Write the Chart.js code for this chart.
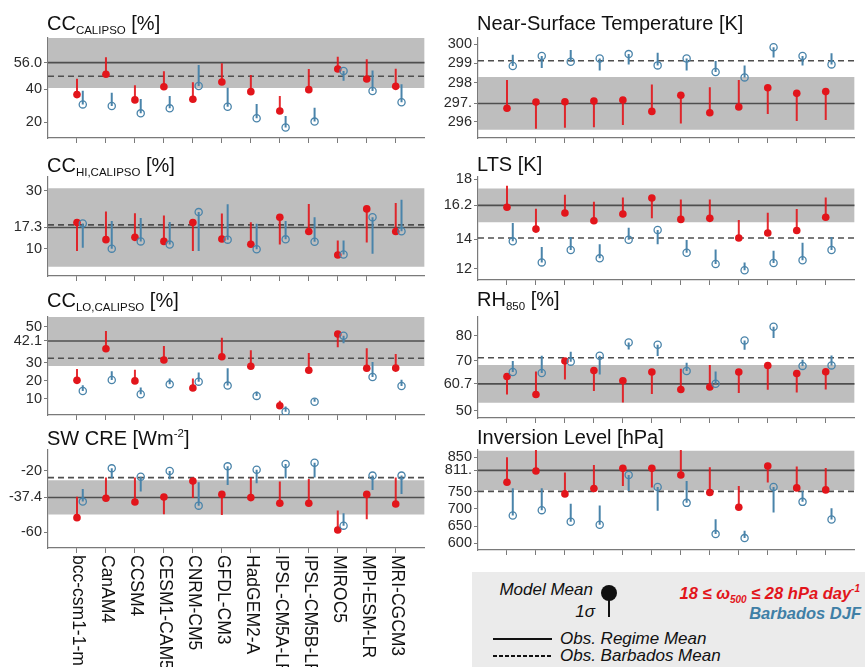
<!DOCTYPE html>
<html>
<head>
<meta charset="utf-8">
<script src="https://cdn.jsdelivr.net/npm/chart.js@4.4.1/dist/chart.umd.min.js"></script>
<style>
  body { margin:0; width:865px; height:667px; position:relative; background:#fff; overflow:hidden;
         font-family:"Liberation Sans", Arial, Helvetica, sans-serif; }
  canvas { position:absolute; }
  .title { position:absolute; font-size:20px; line-height:20px; color:#111; white-space:nowrap; z-index:3; }
  .title sub { font-size:11.5px; vertical-align:baseline; position:relative; top:4px; }
  .title sup { font-size:11.5px; vertical-align:baseline; position:relative; top:-8px; }
  #legendBox { position:absolute; left:472px; top:572px; width:393px; height:95px; background:#EBEBEB; z-index:1; }
  .lg { position:absolute; font-size:17px; line-height:20px; font-style:italic; color:#111; white-space:nowrap; z-index:2; }
  .lg sub { font-size:10px; vertical-align:baseline; position:relative; top:4px; }
  .lg sup { font-size:10px; vertical-align:baseline; position:relative; top:-7px; }
</style>
</head>
<body>

<div class="title" style="left:47px;top:13px">CC<sub>CALIPSO</sub> [%]</div>
<div class="title" style="left:477px;top:13px">Near-Surface Temperature [K]</div>
<div class="title" style="left:47px;top:155px">CC<sub>HI,CALIPSO</sub> [%]</div>
<div class="title" style="left:477px;top:154px">LTS [K]</div>
<div class="title" style="left:47px;top:290px">CC<sub>LO,CALIPSO</sub> [%]</div>
<div class="title" style="left:477px;top:289px">RH<sub>850</sub> [%]</div>
<div class="title" style="left:47px;top:428px">SW CRE [Wm<sup>-2</sup>]</div>
<div class="title" style="left:477px;top:427px">Inversion Level [hPa]</div>

<div id="legendBox"></div>
<div class="lg" style="right:272px;top:580px">Model Mean</div>
<div style="position:absolute;left:601px;top:585px;width:16px;height:16px;border-radius:50%;background:#111;z-index:2"></div>
<div style="position:absolute;left:608px;top:592px;width:2px;height:25px;background:#111;z-index:2"></div>
<div class="lg" style="right:270px;top:602px">1σ</div>
<div class="lg" style="right:5px;top:583px;font-weight:bold;color:#E2151B;font-size:16.5px">18 ≤ ω<sub>500</sub> ≤ 28 hPa day<sup>-1</sup></div>
<div class="lg" style="right:4px;top:603px;font-weight:bold;color:#3F7FA6;font-size:16.5px">Barbados DJF</div>
<div style="position:absolute;left:493px;top:638px;width:59px;height:2px;background:#111;z-index:2"></div>
<div class="lg" style="left:560px;top:629px">Obs. Regime Mean</div>
<div style="position:absolute;left:493px;top:655px;width:59px;height:2px;background:repeating-linear-gradient(90deg,#111 0 4px,transparent 4px 6px);z-index:2"></div>
<div class="lg" style="left:560px;top:646px">Obs. Barbados Mean</div>

<script>
// ---------------- DATA ----------------
const models = ["bcc-csm1-1-m","CanAM4","CCSM4","CESM1-CAM5","CNRM-CM5","GFDL-CM3",
                "HadGEM2-A","IPSL-CM5A-LR","IPSL-CM5B-LR","MIROC5","MPI-ESM-LR","MRI-CGCM3"];

// Observations per panel: CC, CC_HI, CC_LO, SW CRE, T, LTS, RH850, Inversion
const obsRegimeMean   = [56.0, 17.3, 42.1, -37.4, 296.94, 16.26, 60.73, 812];
const obsRegimeSd     = [15.3, 13.5, 13.85, 11.1, 1.36, 1.13, 7.53, 57];
const obsBarbadosMean = [47.8, 18.2, 32.5, -24.5, 299.14, 14.07, 71.2, 751];

const yTickValues = [
  [20, 40, 56.0],
  [10, 17.3, 30],
  [10, 20, 30, 42.1, 50],
  [-60, -37.4, -20],
  [296, 296.94, 298, 299, 300],
  [12, 14, 16.26, 18],
  [50, 60.73, 70, 80],
  [600, 650, 700, 750, 812, 850]
];
const yTickLabels = [
  ["20", "40", "56.0"],
  ["10", "17.3", "30"],
  ["10", "20", "30", "42.1", "50"],
  ["-60", "-37.4", "-20"],
  ["296", "297.", "298", "299", "300"],
  ["12", "14", "16.2", "18"],
  ["50", "60.7", "70", "80"],
  ["600", "650", "700", "750", "811.", "850"]
];

// CC_CALIPSO [%]
const ccRegime        = [36.7,49.0,33.5,41.5,33.9,44.3,38.5,26.8,39.7,52.2,46.1,41.7];
const ccRegimeSigma   = [46.3,59.2,42.3,50.8,44.1,55.6,48.6,35.9,52.2,59.6,58.0,52.4];
const ccBarbados      = [30.8,29.8,25.4,28.4,41.9,29.4,22.4,16.8,20.4,51.0,38.9,32.1];
const ccBarbadosSigma = [39.1,37.9,34.1,35.9,54.6,40.9,31.1,23.8,28.8,45.1,51.2,42.9];

// CC_HI,CALIPSO [%]
const ccHiRegime        = [19.0,13.1,13.9,12.5,19.0,13.3,11.5,20.8,15.9,7.8,23.7,15.9];
const ccHiRegimeSigma   = [9.2,22.8,22.2,21.4,9.2,22.1,19.1,11.4,25.4,12.8,12.1,25.7];
const ccHiBarbados      = [18.7,10.0,12.5,11.4,22.6,13.1,9.8,13.2,12.4,8.0,20.8,16.0];
const ccHiBarbadosSigma = [10.3,19.5,20.6,19.2,9.2,25.3,18.6,19.5,20.8,12.8,8.2,26.9];

// CC_LO,CALIPSO [%]
const ccLoRegime        = [20.3,37.8,20.0,31.6,16.1,33.4,28.1,6.3,25.9,45.9,27.0,27.1];
const ccLoRegimeSigma   = [26.6,47.6,26.2,39.3,21.4,43.9,36.9,9.1,35.4,38.6,38.0,34.9];
const ccLoBarbados      = [14.4,20.5,12.6,18.1,19.6,17.4,11.7,3.0,8.5,45.0,22.2,17.2];
const ccLoBarbadosSigma = [17.6,25.3,16.3,21.4,24.7,27.0,14.1,5.8,10.2,40.8,30.5,20.7];

// SW CRE [W m-2]
const swRegime        = [-50.5,-37.9,-40.3,-37.1,-26.7,-35.4,-37.5,-41.2,-41.2,-58.5,-35.4,-41.6];
const swRegimeSigma   = [-36.9,-24.5,-24.5,-48.3,-37.7,-48.8,-24.5,-27.1,-25.4,-45.9,-51.6,-24.5];
const swBarbados      = [-40.1,-18.5,-23.9,-20.2,-42.7,-17.2,-19.4,-15.7,-14.8,-55.7,-23.2,-23.2];
const swBarbadosSigma = [-31.9,-25.0,-33.6,-25.6,-27.6,-29.3,-28.2,-25.0,-24.5,-47.7,-32.5,-35.1];

// Near-surface temperature [K]
const tasRegime        = [296.69,297.01,297.03,297.06,297.12,296.53,297.36,296.46,296.76,297.75,297.46,297.55];
const tasRegimeSigma   = [298.15,295.64,295.69,295.71,295.83,297.92,295.91,297.77,298.15,296.39,296.03,296.09];
const tasBarbados      = [298.87,299.38,299.09,299.26,299.48,298.90,299.26,298.56,298.28,299.83,299.38,298.95];
const tasBarbadosSigma = [299.45,298.76,299.69,298.63,298.95,299.55,298.63,299.12,298.90,299.31,298.90,299.52];

// LTS [K]
const ltsRegime        = [16.13,14.67,15.75,15.23,15.68,16.75,15.32,15.39,14.07,14.41,14.58,15.46];
const ltsRegimeSigma   = [17.58,16.04,16.97,16.50,16.79,15.39,16.66,16.66,15.28,15.77,16.01,16.79];
const ltsBarbados      = [13.85,12.44,13.27,12.71,13.96,14.61,13.09,12.33,11.91,12.40,12.58,13.27];
const ltsBarbadosSigma = [15.08,13.47,14.14,13.65,14.76,13.65,13.94,13.31,12.44,13.22,13.76,14.14];

// RH850 [%]
const rhRegime        = [63.7,56.5,69.9,66.1,62.0,65.5,58.5,59.5,65.5,68.1,64.9,65.6];
const rhRegimeSigma   = [56.5,65.7,62.5,57.9,53.3,56.7,66.8,68.3,57.1,58.4,57.3,58.5];
const rhBarbados      = [65.5,65.1,69.6,72.0,77.3,76.4,65.9,60.8,78.1,83.6,67.9,68.1];
const rhBarbadosSigma = [69.9,72.0,73.6,64.5,74.5,71.9,69.2,65.7,74.4,79.1,70.4,72.1];

// Inversion level [hPa]
const invRegime        = [777.5,810.4,743.7,759.2,818.1,818.1,798.8,747.6,705.0,824.9,761.1,755.3];
const invRegimeSigma   = [850.0,875.0,805.6,827.8,766.9,762.0,874.0,821.0,766.9,776.6,823.0,819.1];
const invBarbados      = [680.9,696.4,662.6,653.9,798.8,764.0,717.6,626.8,615.2,764.0,720.5,669.3];
const invBarbadosSigma = [760.1,760.1,714.7,709.9,752.4,694.4,781.4,670.3,636.5,689.6,752.4,702.2];

// ---------------- LAYOUT / STYLE ----------------
const RED = '#E2151B', RED_LINE = 'rgba(226,21,27,0.9)', BLUE = '#4A84AA';
const FONT = '"Liberation Sans", Arial, Helvetica, sans-serif';
Chart.defaults.font.family = FONT;

const panels = [
  {col:0, top:38,  bottom:138, min:10.5,   max:70.9,   red:ccRegime,   redS:ccRegimeSigma,   blue:ccBarbados,   blueS:ccBarbadosSigma},
  {col:0, top:177, bottom:276, min:0.57,   max:34.7,   red:ccHiRegime, redS:ccHiRegimeSigma, blue:ccHiBarbados, blueS:ccHiBarbadosSigma},
  {col:0, top:317, bottom:415, min:1.15,   max:55.35,  red:ccLoRegime, redS:ccLoRegimeSigma, blue:ccLoBarbados, blueS:ccLoBarbadosSigma},
  {col:0, top:450, bottom:548, min:-70.2,  max:-6.6,   red:swRegime,   redS:swRegimeSigma,   blue:swBarbados,   blueS:swBarbadosSigma, labels:true},
  {col:1, top:38,  bottom:138, min:295.16, max:300.31, red:tasRegime,  redS:tasRegimeSigma,  blue:tasBarbados,  blueS:tasBarbadosSigma},
  {col:1, top:177, bottom:280, min:11.26,  max:18.16,  red:ltsRegime,  redS:ltsRegimeSigma,  blue:ltsBarbados,  blueS:ltsBarbadosSigma},
  {col:1, top:317, bottom:418, min:47.07,  max:87.47,  red:rhRegime,   redS:rhRegimeSigma,   blue:rhBarbados,   blueS:rhBarbadosSigma},
  {col:1, top:450, bottom:550, min:580.6,  max:871.3,  red:invRegime,  redS:invRegimeSigma,  blue:invBarbados,  blueS:invBarbadosSigma}
];

const BLUE_OFFSET = 0.2;

function whiskers(vals, ends, off) {
  const d = [];
  vals.forEach((v, i) => {
    d.push({x: i + 1 + off, y: v}, {x: i + 1 + off, y: ends[i]}, {x: i + 1 + off, y: null});
  });
  return d;
}

const modelLabelPlugin = {
  id: 'modelLabels',
  afterDraw(chart) {
    const xs = chart.scales.x, ctx = chart.ctx;
    ctx.save();
    ctx.font = '17.5px ' + FONT;
    ctx.fillStyle = '#111';
    ctx.textAlign = 'left';
    ctx.textBaseline = 'middle';
    models.forEach((m, i) => {
      const px = xs.getPixelForValue(i + 1);
      ctx.save();
      ctx.translate(px + 1, chart.chartArea.bottom + 7);
      ctx.rotate(Math.PI / 2);
      ctx.fillText(m, 0, 0);
      ctx.restore();
    });
    ctx.restore();
  }
};

panels.forEach((p, k) => {
  const padTop = 10;
  const xh = p.labels ? 667 - p.bottom : 8;
  const W = 430, H = padTop + (p.bottom - p.top) + xh;
  const cv = document.createElement('canvas');
  cv.width = W; cv.height = H;
  cv.style.width = W + 'px'; cv.style.height = H + 'px';
  cv.style.left = (p.col ? 430 : 0) + 'px';
  cv.style.top = (p.top - padTop) + 'px';
  document.body.appendChild(cv);

  const m = obsRegimeMean[k], sd = obsRegimeSd[k], b = obsBarbadosMean[k];
  const tv = yTickValues[k], tl = yTickLabels[k];

  new Chart(cv, {
    type: 'line',
    data: {
      datasets: [
        {data: [{x:0, y:m + sd}, {x:13, y:m + sd}], fill: {value: m - sd}, backgroundColor: '#BEBEBE',
         borderWidth: 0, pointRadius: 0, order: 7},
        {data: [{x:0, y:m}, {x:13, y:m}], borderColor: '#4F4F4F', borderWidth: 1.6, pointRadius: 0, fill: false, order: 6},
        {data: [{x:0, y:b}, {x:13, y:b}], borderColor: '#4F4F4F', borderWidth: 1.6, borderDash: [6, 4],
         pointRadius: 0, fill: false, order: 5},
        {data: whiskers(p.red, p.redS, 0), borderColor: RED_LINE, borderWidth: 2, pointRadius: 0,
         spanGaps: false, fill: false, order: 4},
        {data: p.red.map((v, i) => ({x: i + 1, y: v})), showLine: false, pointRadius: 3.8,
         pointBackgroundColor: RED, pointBorderColor: RED, pointBorderWidth: 0, order: 3},
        {data: whiskers(p.blue, p.blueS, BLUE_OFFSET), borderColor: BLUE, borderWidth: 2, pointRadius: 0,
         spanGaps: false, fill: false, order: 2},
        {data: p.blue.map((v, i) => ({x: i + 1 + BLUE_OFFSET, y: v})), showLine: false, pointRadius: 3.6,
         pointBackgroundColor: 'rgba(0,0,0,0)', pointBorderColor: BLUE, pointBorderWidth: 1.3, order: 1}
      ]
    },
    options: {
      responsive: false, animation: false, events: [], devicePixelRatio: 1,
      layout: {padding: {top: padTop, right: 5, left: 0, bottom: 0}},
      plugins: {legend: {display: false}, tooltip: {enabled: false}},
      scales: {
        x: {
          type: 'linear', min: 0, max: 13,
          afterBuildTicks: s => { s.ticks = models.map((_, i) => ({value: i + 1})); },
          ticks: {display: false, autoSkip: false},
          grid: {drawOnChartArea: false, drawTicks: true, tickLength: 5, color: '#7a7a7a', lineWidth: 1},
          border: {color: '#7a7a7a', width: 1.2},
          afterFit: s => { s.height = xh; s.paddingLeft = 0; s.paddingRight = 0; }
        },
        y: {
          min: p.min, max: p.max,
          afterBuildTicks: s => { s.ticks = tv.map(v => ({value: v})); },
          ticks: {callback: (v, i) => tl[i], autoSkip: false, font: {size: 14.5, family: FONT},
                  color: '#2b2b2b', padding: 2},
          grid: {drawOnChartArea: false, drawTicks: true, tickLength: 4, color: '#7a7a7a', lineWidth: 1},
          border: {color: '#7a7a7a', width: 1.2},
          afterFit: s => { s.width = 48; s.paddingTop = 0; s.paddingBottom = 0; }
        }
      }
    },
    plugins: p.labels ? [modelLabelPlugin] : []
  });
});
</script>
</body>
</html>
